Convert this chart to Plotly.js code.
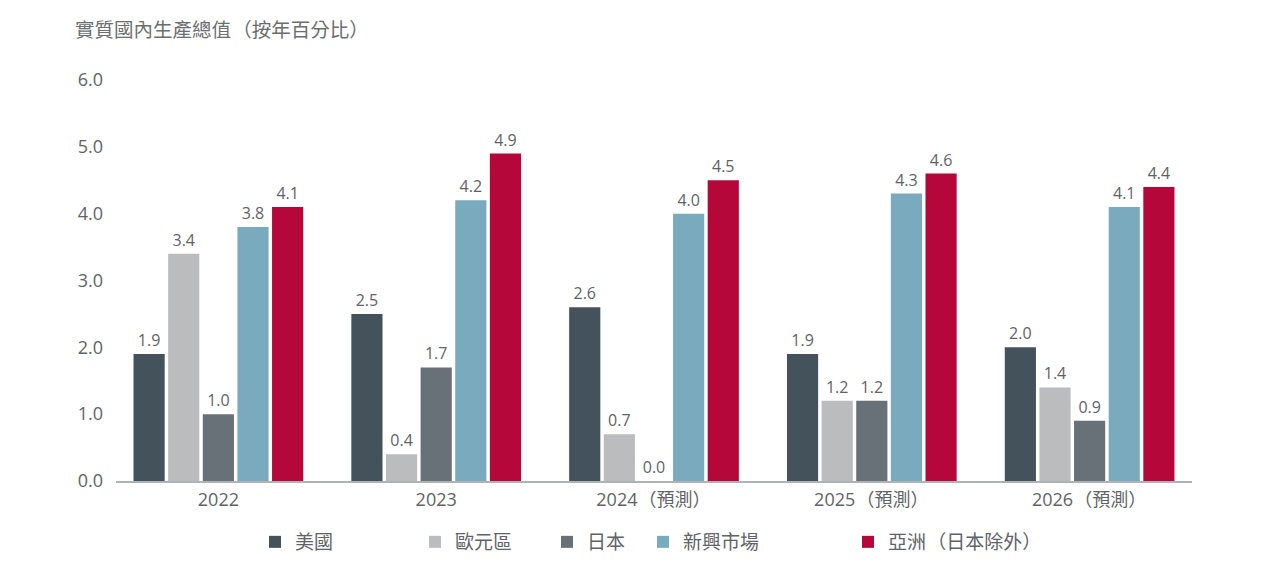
<!DOCTYPE html>
<html>
<head>
<meta charset="utf-8">
<script src="https://cdn.plot.ly/plotly-3.0.1.min.js"></script>
<style>
html,body{margin:0;padding:0;background:#fff;}
#chart{width:1280px;height:578px;}
</style>
</head>
<body>
<div id="chart"></div>
<script>
const categories = ["2022", "2023", "2024（預測）", "2025（預測）", "2026（預測）"];
const seriesNames = ["美國", "歐元區", "日本", "新興市場", "亞洲（日本除外）"];
const usa = [1.9, 2.5, 2.6, 1.9, 2.0];
const eurozone = [3.4, 0.4, 0.7, 1.2, 1.4];
const japan = [1.0, 1.7, 0.0, 1.2, 0.9];
const emerging = [3.8, 4.2, 4.0, 4.3, 4.1];
const asiaExJapan = [4.1, 4.9, 4.5, 4.6, 4.4];
const yTicks = [0, 1, 2, 3, 4, 5, 6];

const seriesValues = [usa, eurozone, japan, emerging, asiaExJapan];
const colors = ["#44525c", "#bbbcbd", "#687178", "#7aaabe", "#b5073a"];
const legendIds = ["legend", "legend2", "legend3", "legend4", "legend5"];
const legendX = [255, 415, 547, 643, 848];

const FONT = "'Open Sans', 'Noto Sans CJK TC', sans-serif";
const TXT = "#5f6368";

// full-width parentheses drawn with the Japanese CJK face at full-em width
// (a hair space keeps the browser from trimming their spacing)
function cjkParens(s) {
  const open = '<span style="font-family:\'Noto Sans CJK JP\'">\u200A（</span>';
  const close = '<span style="font-family:\'Noto Sans CJK JP\'">）\u200A</span>';
  return s.replace(/（/g, open).replace(/）/g, close);
}

const traces = seriesValues.map((vals, i) => ({
  type: "bar",
  name: cjkParens(seriesNames[i]),
  x: categories,
  y: vals,
  marker: {color: colors[i]},
  text: vals.map(v => v.toFixed(1)),
  textposition: "outside",
  cliponaxis: false,
  textfont: {family: FONT, size: 16, color: TXT},
  hoverinfo: "x+y",
  legend: legendIds[i]
}));

const layout = {
  width: 1280, height: 578,
  margin: {l: 116, r: 88, t: 80, b: 97},
  paper_bgcolor: "#fff", plot_bgcolor: "#fff",
  font: {family: FONT, color: TXT, size: 18},
  title: {
    text: cjkParens("實質國內生產總值（按年百分比）"),
    x: 75 / 1280, xref: "container", xanchor: "left",
    y: 1 - 30 / 578, yref: "container", yanchor: "middle",
    font: {family: FONT, size: 19.5, color: "#6b6e70"}
  },
  barmode: "group",
  bargap: 0.205,
  bargroupgap: 0.1,
  xaxis: {
    type: "category",
    range: [-0.47, 4.47],
    tickvals: categories,
    ticktext: categories.map(cjkParens),
    showgrid: false, zeroline: false,
    showline: true, linecolor: "#b0b3b5", linewidth: 1.5,
    ticks: "", ticklabelstandoff: 2,
    tickfont: {family: FONT, size: 18, color: TXT},
    fixedrange: true
  },
  yaxis: {
    range: [0, 6],
    tickvals: yTicks,
    ticktext: yTicks.map(v => v.toFixed(1)),
    showgrid: false, zeroline: false, showline: false,
    ticks: "", ticklabelstandoff: 12,
    tickfont: {family: FONT, size: 18, color: TXT},
    fixedrange: true
  },
  showlegend: true
};
legendIds.forEach((id, i) => {
  layout[id] = {
    x: legendX[i] / 1280, xref: "container", xanchor: "left",
    y: 1 - 542 / 578, yref: "container", yanchor: "middle",
    orientation: "h",
    font: {family: FONT, size: 19, color: TXT},
    bgcolor: "rgba(0,0,0,0)",
    itemwidth: 30
  };
});

Plotly.newPlot("chart", traces, layout, {displayModeBar: false, responsive: false});
</script>
</body>
</html>
